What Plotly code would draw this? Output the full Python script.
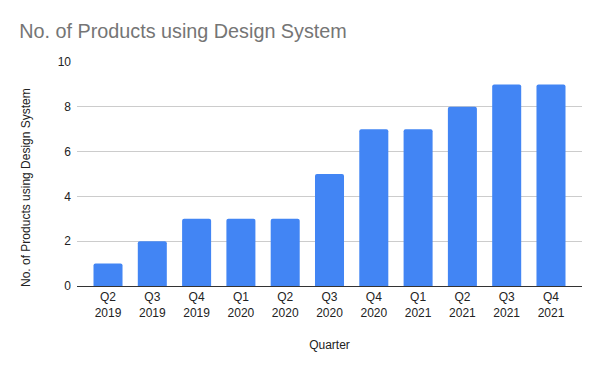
import plotly.graph_objects as go

quarters = ["Q2<br>2019", "Q3<br>2019", "Q4<br>2019", "Q1<br>2020", "Q2<br>2020", "Q3<br>2020",
            "Q4<br>2020", "Q1<br>2021", "Q2<br>2021", "Q3<br>2021", "Q4<br>2021"]
products = [1, 2, 3, 3, 3, 5, 7, 7, 8, 9, 9]
y_ticks = [0, 2, 4, 6, 8, 10]

FONT = "Liberation Sans, Arial, sans-serif"

fig = go.Figure(go.Bar(
    x=list(range(len(quarters))), y=products,
    marker=dict(color="#4285F4", line=dict(width=0), cornerradius=2),
    width=0.655,
))

fig.update_layout(
    width=600, height=371,
    margin=dict(l=77, r=18, t=62, b=85),
    paper_bgcolor="white", plot_bgcolor="white",
    font=dict(family=FONT, size=12, color="#222222"),
    title=dict(text="No. of Products using Design System", x=0.032, xanchor="left",
               y=0.915, yanchor="middle",
               font=dict(family=FONT, size=19.8, color="#757575")),
    showlegend=False,
    bargap=0.3,
)
fig.update_xaxes(
    range=[-0.7, 10.7], tickmode="array", tickvals=list(range(len(quarters))), ticktext=quarters,
    showgrid=False, showline=True, linecolor="#333333", linewidth=1, ticks="",
    tickfont=dict(size=12, color="#222222"),
    title=dict(text="Quarter", font=dict(size=12, color="#222222"), standoff=21),
    zeroline=False,
)
fig.update_yaxes(
    range=[0, 10], tickmode="array", tickvals=y_ticks,
    showgrid=True, gridcolor="#cccccc", gridwidth=1, zeroline=False, showline=False,
    ticks="", ticklabelstandoff=5,
    tickfont=dict(size=12, color="#222222"),
)
fig.add_annotation(
    text="No. of Products using Design System", textangle=-90,
    xref="paper", yref="paper", x=-0.101, y=0.442,
    xanchor="center", yanchor="middle", showarrow=False,
    font=dict(family=FONT, size=12, color="#222222"),
)

fig.write_html("out.html")
